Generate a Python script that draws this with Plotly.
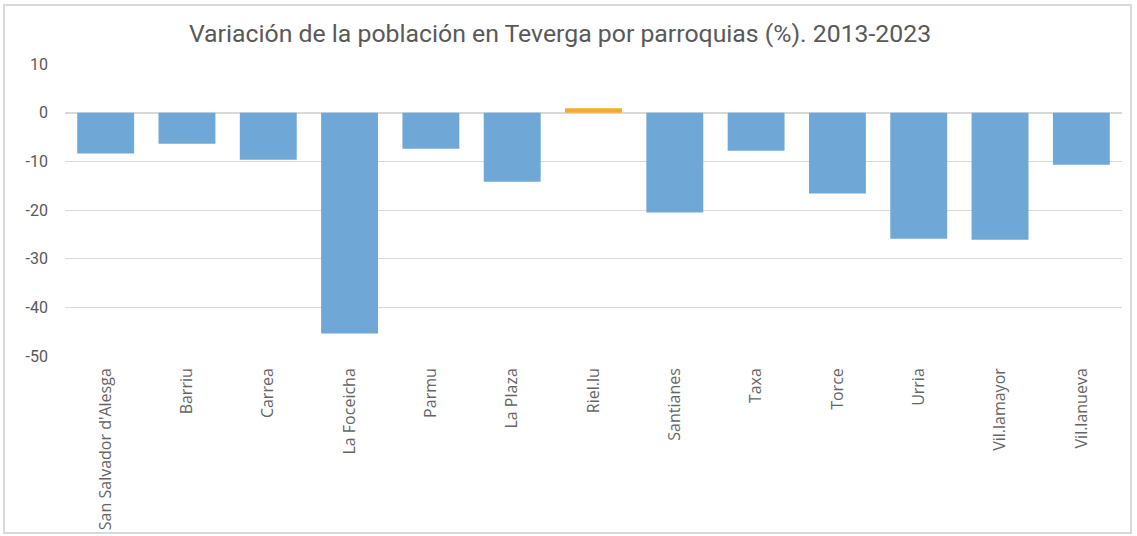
import plotly.graph_objects as go

categories = ["San Salvador d'Alesga", "Barriu", "Carrea", "La Foceicha", "Parmu", "La Plaza",
              "Riel.lu", "Santianes", "Taxa", "Torce", "Urria", "Vil.lamayor", "Vil.lanueva"]
values = [-8.4, -6.4, -9.7, -45.4, -7.4, -14.2, 0.9, -20.5, -7.8, -16.6, -25.9, -26.1, -10.7]
tick_vals = [10, 0, -10, -20, -30, -40, -50]
tick_text = ["10", "0", "-10", "-20", "-30", "-40", "-50"]

BLUE = "#6fa8d6"
ORANGE = "#f9a832"
colors = [ORANGE if v > 0 else BLUE for v in values]

W, H = 1137, 536
L, R, T, B = 65, 15, 64, 180
pw, ph = W - L - R, H - T - B

def px_x(x):
    return (x - L) / pw

def px_y(y):
    return (H - B - y) / ph

fig = go.Figure(go.Bar(
    x=categories, y=values,
    marker=dict(color=colors, line=dict(width=0)),
    width=0.7,
))

fig.update_layout(
    width=W, height=H,
    margin=dict(l=L, r=R, t=T, b=B),
    paper_bgcolor="white", plot_bgcolor="white",
    showlegend=False,
    title=dict(text="Variación de la población en Teverga por parroquias (%). 2013-2023",
               x=560 / W, xanchor="center", y=1 - 33 / H, yanchor="middle",
               font=dict(family="Roboto", size=24.8, color="#595959")),
    xaxis=dict(showgrid=False, showline=False, ticks="", tickangle=-90,
               ticklabelstandoff=8, automargin=False,
               tickfont=dict(family="Open Sans", size=16, color="#666666")),
    yaxis=dict(range=[-50, 10], tickvals=tick_vals, ticktext=tick_text,
               showgrid=True, gridcolor="#d9d9d9", automargin=False,
               gridwidth=1, zeroline=True, zerolinecolor="#d9d9d9", zerolinewidth=2,
               showline=False, ticks="", ticklabelstandoff=16,
               tickfont=dict(family="Roboto", size=16, color="#595959")),
    shapes=[dict(type="rect", xref="paper", yref="paper",
                 x0=px_x(4), x1=px_x(1131), y0=px_y(533), y1=px_y(5),
                 line=dict(color="#d9d9d9", width=2), layer="below")],
)

fig.write_html("out.html", config={"displayModeBar": False},
               post_script="document.body.style.margin='0';")
